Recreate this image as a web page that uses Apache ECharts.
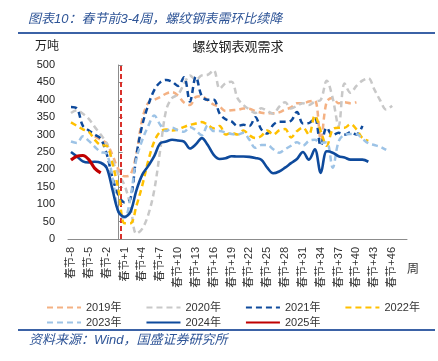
<!DOCTYPE html>
<html><head><meta charset="utf-8">
<script src="https://cdn.jsdelivr.net/npm/echarts@6/dist/echarts.min.js"></script>
<style>html,body{margin:0;padding:0;background:#fff}#c{width:438px;height:361px}</style>
</head><body><div id="c"></div>
<script>
const categories = ['春节-8','春节-7','春节-6','春节-5','春节-4','春节-3','春节-2','春节-1','春节',
'春节+1','春节+2','春节+3','春节+4','春节+5','春节+6','春节+7','春节+8','春节+9','春节+10',
'春节+11','春节+12','春节+13','春节+14','春节+15','春节+16','春节+17','春节+18','春节+19','春节+20',
'春节+21','春节+22','春节+23','春节+24','春节+25','春节+26','春节+27','春节+28','春节+29','春节+30',
'春节+31','春节+32','春节+33','春节+34','春节+35','春节+36','春节+37','春节+38','春节+39','春节+40',
'春节+41','春节+42','春节+43','春节+44','春节+45','春节+46','春节+47','春节+48'];

const s2019 = [null,null,null,null,295,285,275,240,200,180,185,245,345,392,400,408,418,422,412,392,385,408,410,398,386,380,368,370,371,375,374,368,363,361,361,364,372,378,390,390,395,398,285,395,405,390,393,390,393,null,null,null,null,null,null,null,null];
const s2020 = [362,370,360,345,322,300,275,225,185,155,95,15,30,70,140,255,370,405,415,445,470,458,470,472,485,432,448,452,405,385,372,362,376,368,360,380,393,375,383,390,385,395,400,455,405,325,447,420,440,455,462,430,398,372,383,null,null];
const s2021 = [379,375,325,312,300,288,245,175,125,105,115,240,328,385,428,450,457,452,440,465,395,466,410,400,400,360,344,338,325,328,325,350,315,303,328,337,337,340,365,332,333,348,268,320,298,305,300,306,300,325,null,null,null,null,null,null,null];
const s2022 = [335,325,315,308,285,270,268,215,140,45,45,95,155,225,280,308,315,312,315,322,328,332,336,328,318,325,300,305,300,312,298,290,296,312,300,312,316,292,310,320,300,355,310,268,315,320,320,330,315,290,282,null,null,null,null,null,null];
const s2023 = [280,276,295,282,265,250,245,175,75,60,120,230,285,325,355,328,310,320,312,308,322,312,298,326,310,310,306,302,300,305,285,262,270,270,258,248,258,268,278,268,282,285,276,278,205,280,300,302,302,288,275,270,265,256,null,null,null];
const s2024 = [250,237,223,220,222,219,205,140,78,64,78,140,185,210,238,275,280,285,283,280,260,272,290,270,242,230,232,238,237,237,236,233,228,205,189,194,205,218,230,250,228,258,190,252,248,238,234,228,228,228,222,null,null,null,null,null,null];
const s2025 = [227,238,240,228,203,190,null,null,null,null,null,null,null,null,null,null,null,null,null,null,null,null,null,null,null,null,null,null,null,null,null,null,null,null,null,null,null,null,null,null,null,null,null,null,null,null,null,null,null,null,null,null,null,null,null,null,null];

const seriesNames = ['2019年','2020年','2021年','2022年','2023年','2024年','2025年'];
const springFestivalWeek = 0.4;
const yMin = 0, yMax = 500, yStep = 50;

const FONT = '"Liberation Sans","Noto Sans CJK SC",sans-serif';
const DASH = [6, 4];
function mk(name, data, color, width, type, z) {
  return { name, type: 'line', data, smooth: 0.35, symbol: 'none', z,
    lineStyle: { color, width, type }, itemStyle: { color } };
}
const legendCommon = {
  left: 41, itemWidth: 34, itemHeight: 12, itemGap: 24,
  itemStyle: { opacity: 0, borderWidth: 0 },
  textStyle: { fontSize: 11, color: '#333', fontFamily: FONT }
};
const chart = echarts.init(document.getElementById('c'));
chart.setOption({
  animation: false,
  textStyle: { fontFamily: FONT },
  grid: { left: 68, right: 31, top: 65, bottom: 122, containLabel: false },
  xAxis: [{
    type: 'category', data: categories, boundaryGap: true,
    axisLine: { lineStyle: { color: '#8c8c8c' } },
    axisTick: { show: false },
    axisLabel: { interval: 2, rotate: 90, fontSize: 11, color: '#333', margin: 8, fontFamily: FONT }
  }, {
    type: 'value', min: -8.5, max: 48.5, show: false
  }],
  yAxis: {
    type: 'value', min: yMin, max: yMax, interval: yStep,
    axisLine: { show: true, lineStyle: { color: '#8c8c8c' } },
    axisTick: { show: true, inside: true, length: 4, lineStyle: { color: '#8c8c8c' } },
    splitLine: { show: false },
    axisLabel: { fontSize: 11, color: '#222', margin: 13, fontFamily: FONT }
  },
  legend: [
    Object.assign({ data: seriesNames.slice(0, 4), top: 297 }, legendCommon),
    Object.assign({ data: seriesNames.slice(4), top: 312 }, legendCommon)
  ],
  series: [
    mk(seriesNames[0], s2019, '#F4B183', 2.5, DASH, 2),
    mk(seriesNames[1], s2020, '#C8C8C8', 2.5, DASH, 3),
    mk(seriesNames[2], s2021, '#0E4A9C', 2.5, DASH, 4),
    mk(seriesNames[3], s2022, '#FFC000', 2.5, DASH, 5),
    mk(seriesNames[4], s2023, '#9DC3E6', 2.5, DASH, 6),
    mk(seriesNames[5], s2024, '#0E4A9C', 2.6, 'solid', 7),
    mk(seriesNames[6], s2025, '#C00000', 3.2, 'solid', 8),
    { name: 'sf', type: 'line', xAxisIndex: 1, data: [], silent: true,
      markLine: { silent: true, symbol: ['none', 'none'], label: { show: false },
        lineStyle: { color: '#D9312B', type: [5, 3], width: 2 },
        data: [{ xAxis: springFestivalWeek }] } }
  ],
  graphic: [
    { type: 'text', x: 28, y: 19, style: { text: '图表10：春节前3-4周，螺纹钢表需环比续降', font: 'italic 13px ' + FONT, fill: '#2F5597', textVerticalAlign: 'middle', verticalAlign: 'middle' } },
    { type: 'line', shape: { x1: 18, y1: 33, x2: 435, y2: 33 }, style: { stroke: '#3B62A6', lineWidth: 2 } },
    { type: 'text', x: 35, y: 47, style: { text: '万吨', font: '12px ' + FONT, fill: '#222', textVerticalAlign: 'middle', verticalAlign: 'middle' } },
    { type: 'text', x: 238, y: 47, style: { text: '螺纹钢表观需求', font: '13px ' + FONT, fill: '#222', textAlign: 'center', align: 'center', textVerticalAlign: 'middle', verticalAlign: 'middle' } },
    { type: 'text', x: 413, y: 270, style: { text: '周', font: '12px ' + FONT, fill: '#333', textAlign: 'center', align: 'center', textVerticalAlign: 'middle', verticalAlign: 'middle' } },
    { type: 'line', shape: { x1: 18, y1: 330, x2: 435, y2: 330 }, style: { stroke: '#3B62A6', lineWidth: 2 } },
    { type: 'text', x: 29, y: 340, style: { text: '资料来源：Wind，国盛证券研究所', font: 'italic 13px ' + FONT, fill: '#2F5597', textVerticalAlign: 'middle', verticalAlign: 'middle' } }
  ]
});
</script></body></html>
